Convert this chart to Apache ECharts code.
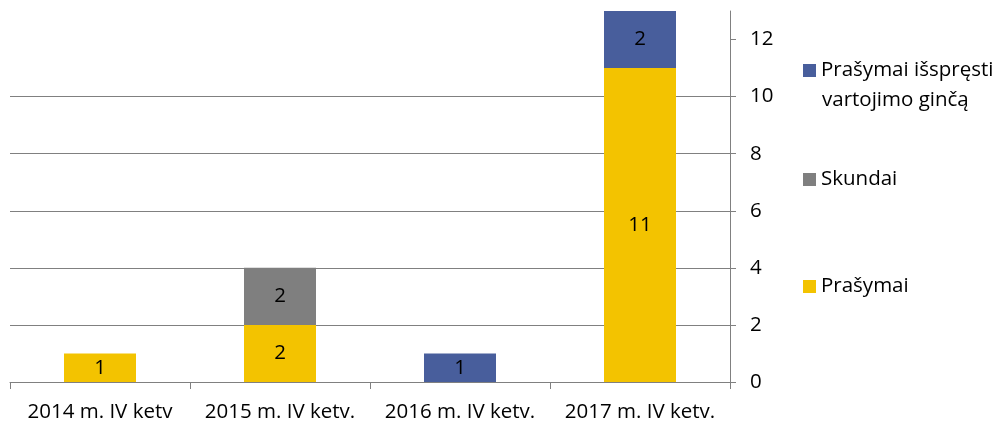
<!DOCTYPE html>
<html style="height: 100%;width: 100%">
<head>
<meta charset="utf-8">
<script src="https://cdn.jsdelivr.net/npm/echarts@6/dist/echarts.min.js"></script>
</head>
<body style="height: 100%;width: 100%;margin: 0;overflow: hidden">
<div id="container" style="width: 998px;height: 423px"></div>
<script type="text/javascript">
// categories and values
var categories = ['2014 m. IV ketv', '2015 m. IV ketv.', '2016 m. IV ketv.', '2017 m. IV ketv.'];
var prasymai = [1, 2, null, 11];
var skundai = [null, 2, null, null];
var issprestiGinca = [null, null, 1, 2];
var yTicks = [0, 2, 4, 6, 8, 10, 12];

var fontName = 'Open Sans';
var fontSize = 20.5;
var gridColor = '#808080';

var dom = document.getElementById('container');
var myChart = echarts.init(dom);

function legendFor(name, top, label) {
    return {
        data: [name],
        left: 803,
        top: top,
        padding: 0,
        icon: 'rect',
        itemWidth: 13,
        itemHeight: 13,
        selectedMode: false,
        formatter: function () { return label; },
        textStyle: { fontFamily: fontName, fontSize: fontSize, color: '#000' }
    };
}

var barLabel = {
    show: true,
    position: 'inside',
    color: '#000',
    fontFamily: fontName,
    fontSize: fontSize
};

option = {
    animation: false,
    grid: { left: 10, right: 268, top: 11, bottom: 40 },
    legend: [
        legendFor('Prašymai išspręsti vartojimo ginčą', 60, 'Prašymai išspręsti'),
        legendFor('Skundai', 169, 'Skundai'),
        legendFor('Prašymai', 276, 'Prašymai')
    ],
    graphic: [{
        type: 'text',
        left: 822,
        top: 90,
        style: { text: 'vartojimo ginčą', fontFamily: fontName, fontSize: fontSize, fill: '#000' }
    }],
    xAxis: {
        type: 'category',
        data: categories,
        axisLine: { lineStyle: { color: gridColor, width: 1 } },
        axisTick: { show: true, interval: 0, length: 7, lineStyle: { color: gridColor } },
        axisLabel: { interval: 0, margin: 20, color: '#000', fontFamily: fontName, fontSize: fontSize }
    },
    yAxis: {
        type: 'value',
        position: 'right',
        min: 0,
        max: 13,
        interval: 2,
        axisLine: { show: true, lineStyle: { color: gridColor, width: 1 } },
        axisTick: { show: true, length: 6, customValues: yTicks, lineStyle: { color: gridColor } },
        axisLabel: { margin: 20, customValues: yTicks, color: '#000', fontFamily: fontName, fontSize: fontSize },
        splitLine: { show: true, showMaxLine: false, lineStyle: { color: gridColor, width: 1 } }
    },
    series: [{
        name: 'Prašymai',
        type: 'bar',
        stack: 'all',
        barWidth: 72,
        itemStyle: { color: '#F3C300' },
        label: barLabel,
        data: prasymai
    }, {
        name: 'Skundai',
        type: 'bar',
        stack: 'all',
        barWidth: 72,
        itemStyle: { color: '#7F7F7F' },
        label: barLabel,
        data: skundai
    }, {
        name: 'Prašymai išspręsti vartojimo ginčą',
        type: 'bar',
        stack: 'all',
        barWidth: 72,
        itemStyle: { color: '#485E9C' },
        label: barLabel,
        data: issprestiGinca
    }]
};

if (option && typeof option === 'object') {
    myChart.setOption(option);
}
</script>
</body>
</html>
